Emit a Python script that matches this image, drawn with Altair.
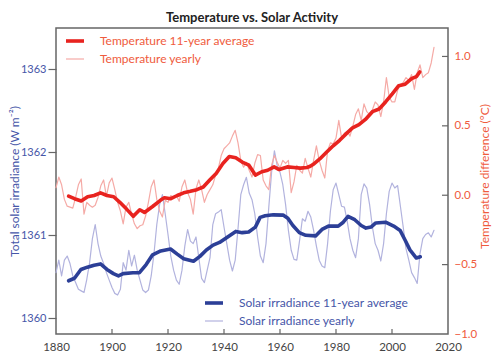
import altair as alt
import pandas as pd

# ---------------- data ----------------
years = list(range(1880, 2016))

solar_yearly = [
    1360.55, 1360.70, 1360.51, 1360.70, 1360.75, 1360.66, 1360.51, 1360.43, 1360.35, 1360.33,
    1360.31, 1360.47, 1360.67, 1360.96, 1361.13, 1360.90, 1360.75, 1360.66, 1360.55, 1360.46,
    1360.37, 1360.30, 1360.28, 1360.35, 1360.67, 1360.58, 1360.82, 1360.63, 1360.76, 1360.58,
    1360.46, 1360.34, 1360.31, 1360.34, 1360.51, 1360.78, 1361.13, 1361.37, 1361.49, 1361.26,
    1361.01, 1360.75, 1360.58, 1360.46, 1360.41, 1360.58, 1360.87, 1361.07, 1360.93, 1360.90,
    1360.98, 1360.73, 1360.48, 1360.43, 1360.58, 1360.73, 1361.13, 1361.26, 1361.28, 1361.31,
    1361.10, 1360.90, 1360.70, 1360.57, 1360.70, 1361.08, 1361.49, 1361.61, 1361.70, 1361.51,
    1361.43, 1361.26, 1360.98, 1360.75, 1360.67, 1360.90, 1361.34, 1361.76, 1362.02, 1361.84,
    1361.76, 1361.61, 1361.37, 1361.06, 1360.82, 1360.71, 1360.70, 1360.94, 1361.20, 1361.17,
    1361.29, 1361.22, 1361.06, 1360.87, 1360.70, 1360.63, 1360.61, 1360.90, 1361.29, 1361.55,
    1361.63, 1361.49, 1361.35, 1361.34, 1361.17, 1360.96, 1360.82, 1360.73, 1360.96, 1361.49,
    1361.62, 1361.57, 1361.37, 1361.10, 1360.90, 1360.82, 1360.69, 1360.90, 1361.26, 1361.53,
    1361.63, 1361.57, 1361.60, 1361.35, 1361.10, 1360.84, 1360.70, 1360.55, 1360.49, 1360.42,
    1360.78, 1360.96, 1361.01, 1361.03, 1360.98, 1361.06,
]

temp_yearly = [
    0.054, 0.131, 0.075, -0.030, -0.079, -0.086, -0.093, -0.016, 0.075, 0.117,
    -0.136, -0.051, -0.072, -0.086, -0.072, -0.016, 0.068, 0.110, -0.009, 0.089,
    0.124, 0.040, -0.051, -0.114, -0.206, -0.086, -0.051, -0.136, -0.206, -0.241,
    -0.220, -0.213, -0.150, -0.051, 0.061, 0.110, -0.030, -0.114, -0.157, -0.037,
    -0.051, -0.002, -0.016, -0.002, -0.044, 0.061, 0.110, 0.019, -0.030, -0.136,
    0.047, 0.110, 0.040, -0.051, 0.005, 0.040, 0.075, 0.145, 0.195, 0.286,
    0.335, 0.356, 0.377, 0.426, 0.468, 0.377, 0.251, 0.202, 0.237, 0.180,
    0.131, 0.230, 0.293, 0.286, 0.110, 0.068, 0.040, 0.216, 0.286, 0.237,
    0.195, 0.251, 0.230, 0.251, 0.019, 0.096, 0.216, 0.180, 0.159, 0.265,
    0.195, 0.131, 0.251, 0.356, 0.251, 0.180, 0.124, 0.321, 0.377, 0.370,
    0.412, 0.539, 0.412, 0.447, 0.461, 0.426, 0.496, 0.581, 0.623, 0.539,
    0.658, 0.602, 0.581, 0.616, 0.672, 0.651, 0.567, 0.672, 0.848, 0.707,
    0.672, 0.672, 0.756, 0.798, 0.812, 0.848, 0.827, 0.869, 0.763, 0.883,
    0.939, 0.848, 0.869, 0.883, 0.953, 1.066,
]

temp_avg_years = [
    1884.5, 1886.6, 1889.0, 1891.3, 1893.6, 1895.9, 1898.2, 1900.6, 1902.9, 1905.2,
    1907.6, 1909.9, 1911.6, 1914.5, 1917.4, 1918.7, 1921.0, 1923.3, 1925.6, 1928.0,
    1930.3, 1932.6, 1934.9, 1937.2, 1939.6, 1941.9, 1944.2, 1946.5, 1948.9, 1951.2,
    1953.5, 1955.6, 1957.9, 1959.7, 1962.6, 1965.0, 1967.3, 1969.6, 1970.8, 1971.9,
    1974.3, 1976.6, 1979.0, 1981.3, 1983.6, 1985.9, 1988.2, 1990.5, 1993.0, 1995.4,
    1997.7, 2000.1, 2002.4, 2004.7, 2007.0, 2008.7, 2009.9,
]
temp_avg = [
    -0.007, -0.025, -0.042, -0.011, -0.002, 0.017, -0.002, -0.011, -0.053, -0.100,
    -0.152, -0.105, -0.124, -0.081, -0.035, -0.018, -0.025, -0.002, 0.017, 0.028,
    0.040, 0.059, 0.110, 0.157, 0.228, 0.279, 0.270, 0.239, 0.216, 0.145,
    0.169, 0.180, 0.204, 0.185, 0.204, 0.200, 0.195, 0.200, 0.209, 0.223,
    0.263, 0.309, 0.356, 0.396, 0.442, 0.485, 0.508, 0.546, 0.602, 0.621,
    0.672, 0.730, 0.789, 0.800, 0.840, 0.855, 0.888,
]

solar_avg_years = [
    1884.5, 1886.6, 1888.9, 1891.2, 1893.6, 1895.9, 1898.2, 1900.5, 1902.3, 1904.0,
    1907.5, 1909.8, 1912.2, 1914.5, 1917.4, 1920.9, 1923.3, 1925.6, 1929.1, 1931.4,
    1933.7, 1936.1, 1938.4, 1941.3, 1944.2, 1946.5, 1948.8, 1951.2, 1952.9, 1954.7,
    1957.6, 1961.1, 1962.8, 1964.6, 1966.9, 1969.2, 1972.7, 1975.0, 1977.3, 1980.8,
    1982.6, 1984.3, 1986.7, 1989.0, 1990.7, 1992.5, 1994.2, 1997.7, 2000.6, 2002.9,
    2004.7, 2006.4, 2008.7, 2010.1,
]
solar_avg = [
    1360.452, 1360.482, 1360.588, 1360.616, 1360.640, 1360.655, 1360.588, 1360.538, 1360.511, 1360.538,
    1360.549, 1360.549, 1360.647, 1360.765, 1360.812, 1360.835, 1360.773, 1360.718, 1360.687, 1360.746,
    1360.824, 1360.882, 1360.914, 1360.981, 1361.047, 1361.032, 1361.040, 1361.099, 1361.216, 1361.235,
    1361.247, 1361.244, 1361.205, 1361.118, 1361.032, 1361.000, 1360.993, 1361.071, 1361.111, 1361.111,
    1361.158, 1361.228, 1361.188, 1361.118, 1361.087, 1361.099, 1361.149, 1361.158, 1361.111, 1361.059,
    1360.941, 1360.824, 1360.726, 1360.741,
]

x_labels = [1880, 1900, 1920, 1940, 1960, 1980, 2000, 2020]
x_ticks = [1900, 1920, 1940, 1960, 1980, 2000]
solar_ticks = [1360, 1361, 1362, 1363]
temp_labels = [-1.0, -0.5, 0.0, 0.5, 1.0]
temp_ticks = [-0.5, 0.0, 0.5, 1.0]

TEMP_AVG = "Temperature 11-year average"
TEMP_YR = "Temperature yearly"
SOL_AVG = "Solar irradiance 11-year average"
SOL_YR = "Solar irradiance yearly"

# ---------------- styling ----------------
W, H = 392, 306
PAD_L, PAD_T = 48, 20
FONT = "Lato"
RED = "#e8231f"
PINK = "#f5aaa6"
NAVY = "#2c3f97"
LAV = "#b2b3de"
ORANGE = "#ef5b3d"
BLUE = "#4656a8"
FRAME = "#666666"

df_sy = pd.DataFrame({"year": years, "value": solar_yearly, "series": SOL_YR})
df_sa = pd.DataFrame({"year": solar_avg_years, "value": solar_avg, "series": SOL_AVG})
df_ty = pd.DataFrame({"year": years, "value": temp_yearly, "series": TEMP_YR})
df_ta = pd.DataFrame({"year": temp_avg_years, "value": temp_avg, "series": TEMP_AVG})

x_axis = alt.Axis(values=x_labels, format="d", title=None, ticks=False, domain=False,
                  grid=False, labelColor="#444444", labelFont=FONT, labelFontSize=11.5,
                  labelPadding=7, labelFlush=False)
x_enc = alt.X("year:Q", scale=alt.Scale(domain=[1880, 2020], nice=False, zero=False), axis=x_axis)

solar_scale = alt.Scale(domain=[1359.81, 1363.50], nice=False, zero=False)
solar_axis = alt.Axis(orient="left", values=solar_ticks, format="d", grid=False, domain=False,
                      ticks=True, tickSize=8, tickColor=FRAME, tickWidth=1.2,
                      labelColor=BLUE, labelFont=FONT, labelFontSize=11, labelPadding=2,
                      title="Total solar irradiance (W m⁻²)", titleColor=BLUE, titleFont=FONT,
                      titleFontSize=12, titleFontWeight="normal", titleAngle=270,
                      titleX=-42, titleY=H / 2, titleAlign="center", titleBaseline="middle")

temp_scale = alt.Scale(domain=[-1.0, 1.205], nice=False, zero=False)
temp_axis = alt.Axis(orient="right", values=temp_labels, format=".1f", grid=False, domain=False,
                     ticks=False, labelColor=ORANGE, labelFont=FONT, labelFontSize=11.5,
                     labelPadding=6, labelAlign="left",
                     title="Temperature difference (°C)", titleColor=ORANGE, titleFont=FONT,
                     titleFontSize=12, titleFontWeight="normal", titleAngle=270,
                     titleX=36, titleY=H / 2 - 5, titleAlign="center", titleBaseline="middle")

temp_legend = alt.Legend(title=None, orient="none", legendX=8, legendY=2, symbolType="stroke",
                         symbolSize=324, labelFont=FONT, labelFontSize=12, labelColor=ORANGE,
                         labelOffset=14, rowPadding=0, padding=0, labelLimit=300)
solar_legend = alt.Legend(title=None, orient="none", legendX=147, legendY=264, symbolType="stroke",
                          symbolSize=324, labelFont=FONT, labelFontSize=12, labelColor=BLUE,
                          labelOffset=14, rowPadding=0, padding=0, labelLimit=300)

temp_color = alt.Scale(domain=[TEMP_AVG, TEMP_YR], range=[RED, PINK])
temp_sw = alt.Scale(domain=[TEMP_AVG, TEMP_YR], range=[3.6, 1.2])
solar_color = alt.Scale(domain=[SOL_AVG, SOL_YR], range=[NAVY, LAV])
solar_sw = alt.Scale(domain=[SOL_AVG, SOL_YR], range=[3.6, 1.2])


def series_line(df, yscale, yaxis, cscale, swscale, legend):
    return alt.Chart(df).mark_line(strokeJoin="round", strokeCap="round").encode(
        x=x_enc,
        y=alt.Y("value:Q", scale=yscale, axis=yaxis),
        color=alt.Color("series:N", scale=cscale, legend=legend),
        strokeWidth=alt.StrokeWidth("series:N", scale=swscale, legend=legend),
    )


solar_group = alt.layer(
    series_line(df_sy, solar_scale, solar_axis, solar_color, solar_sw, solar_legend),
    series_line(df_sa, solar_scale, solar_axis, solar_color, solar_sw, solar_legend),
)

x_tick_marks = alt.Chart(pd.DataFrame({"year": x_ticks})).mark_rule(
    color=FRAME, strokeWidth=1.2).encode(x=x_enc, y=alt.value(H - 5), y2=alt.value(H))

temp_tick_marks = alt.Chart(pd.DataFrame({"value": temp_ticks})).mark_rule(
    color=FRAME, strokeWidth=1.2).encode(
    y=alt.Y("value:Q", scale=temp_scale, axis=temp_axis), x=alt.value(W - 6), x2=alt.value(W))

temp_group = alt.layer(
    series_line(df_ty, temp_scale, temp_axis, temp_color, temp_sw, temp_legend),
    series_line(df_ta, temp_scale, temp_axis, temp_color, temp_sw, temp_legend),
    temp_tick_marks,
    x_tick_marks,
)

chart = alt.layer(solar_group, temp_group).resolve_scale(
    y="independent", color="independent", strokeWidth="independent"
).resolve_legend(
    color="independent", strokeWidth="independent"
).properties(
    width=W, height=H,
    title=alt.TitleParams("Temperature vs. Solar Activity", font=FONT, fontSize=13,
                          fontWeight="bold", color="#222222", anchor="middle", offset=3),
    autosize=alt.AutoSizeParams(type="none"),
    padding={"left": PAD_L, "top": PAD_T, "right": 484 - PAD_L - W, "bottom": 344 - PAD_T - H},
    background="white",
).configure_view(stroke=FRAME, strokeWidth=1.5)

chart.save("out.html", embed_options={"renderer": "svg", "actions": False})
